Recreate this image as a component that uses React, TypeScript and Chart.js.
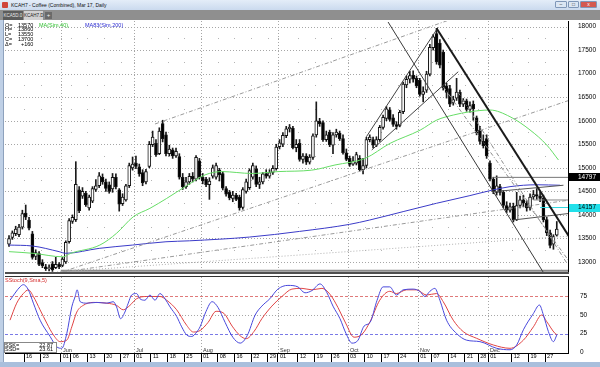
import React, { useEffect, useRef } from 'react';
import { Chart, registerables } from 'chart.js';

Chart.register(...registerables);

const FONT = "'Liberation Sans', Arial, sans-serif";

// ---------- daily OHLC, 9 May – 30 Dec 2016 ----------
const opens = [
  13380,13520,13600,13580,13740,14040,13890,13600,13120,13180,
  12990,12900,12860,12960,12880,12950,12930,13000,13430,13860,
  13900,14530,14400,14460,14150,14290,14540,14620,14800,14700,
  14640,14550,14800,14530,14240,14320,14620,15000,15100,15020,
  14900,14700,15030,15490,15520,15300,15940,15700,15300,15380,
  15250,15240,14800,14600,14700,14820,14760,15150,14800,14760,
  14640,14820,14800,14950,14880,14560,14480,14350,14420,14380,
  14160,14500,14580,14800,14980,14650,14700,14880,14820,14900,
  14980,15450,15500,15680,15830,15840,15430,15520,15180,15250,
  15120,15220,15700,15990,15960,15600,15760,15480,15700,15740,
  15620,15320,15200,15080,15100,15200,14960,15050,15600,15600,
  15480,15600,15860,16050,16230,16060,15920,15900,16190,16760,
  16880,16970,16900,16860,16560,16650,16990,17550,17850,17650,
  17450,16740,16680,16380,16480,16600,16350,16420,16240,16350,
  16060,15800,15560,15620,15100,14760,14480,14600,14480,14200,
  14100,14180,13900,14200,14320,14250,14150,14380,14430,14400,
  14350,13900,13620,13380,13570,
];
const highs = [
  13560,13660,13760,13800,14100,14210,13950,13650,13260,13220,
  13050,12950,12940,13010,13100,12990,13100,13450,13920,14000,
  15130,14600,14580,14500,14420,14600,14750,14900,14870,14760,
  14700,14880,14870,14560,14450,14650,15100,15230,15250,15080,
  14960,14970,15560,15780,15600,15850,16010,15760,15480,15420,
  15420,15300,14880,14800,14880,14900,15260,15200,14880,14800,
  14790,15060,15100,14990,14920,14600,14520,14500,14460,14420,
  14580,14760,14980,15100,15040,14800,14900,14960,14960,15050,
  15500,15600,15750,15880,15920,15880,15600,15600,15300,15300,
  15280,15720,16400,16050,16000,15780,15800,15750,15820,15780,
  15700,15400,15250,15240,15330,15260,15200,15650,15700,15650,
  15660,15900,16120,16300,16280,16130,15980,16220,16820,16950,
  17050,17060,16950,16900,16720,17050,17620,17830,17960,17720,
  17500,16800,16750,16520,16900,16650,16470,16460,16400,16420,
  16100,15880,15700,15700,15150,14800,14830,14650,14520,14280,
  14250,14250,14480,14400,14420,14300,14450,14520,14560,14480,
  14420,13950,13680,13580,13860,
];
const lows = [
  13330,13480,13560,13540,13700,13900,13680,13060,13050,12920,
  12880,12820,12810,12800,12860,12860,12900,12970,13400,13820,
  13860,14050,14350,14180,14100,14260,14500,14580,14650,14500,
  14460,14480,14550,14080,14200,14290,14580,14950,14980,14820,
  14620,14660,15000,15450,15240,15280,15550,15250,15250,15200,
  15220,14760,14540,14560,14650,14700,14720,14760,14660,14600,
  14330,14780,14760,14720,14530,14400,14320,14280,14300,14100,
  14120,14460,14540,14760,14600,14560,14660,14780,14780,14860,
  14950,15400,15450,15640,15760,15400,15340,15140,15100,15070,
  15080,15180,15650,15880,15560,15560,15450,15300,15650,15580,
  15290,15150,15030,15050,15060,14930,14870,15000,15550,15420,
  15450,15560,15820,16000,15990,15880,15820,15870,16150,16700,
  16800,16820,16700,16520,16400,16600,16950,17500,17200,17120,
  16650,16480,16300,16330,16430,16300,16300,16200,16180,16010,
  15700,15500,15420,15200,14720,14450,14420,14420,14150,14050,
  14060,13850,13880,14150,14170,14080,14100,14330,14330,14280,
  13850,13560,13300,13270,13550,
];
const closes = [
  13500,13620,13700,13740,14030,13950,13720,13100,13200,12950,
  12920,12860,12880,12830,12950,12900,13060,13420,13880,13950,
  14650,14090,14500,14220,14380,14560,14620,14830,14700,14560,
  14500,14800,14600,14230,14380,14620,15050,15080,15030,14870,
  14680,14920,15500,15650,15280,15780,15620,15300,15400,15250,
  15350,14800,14600,14700,14820,14760,15220,14800,14720,14640,
  14720,15000,15050,14850,14570,14440,14360,14420,14330,14150,
  14540,14700,14940,15050,14650,14700,14870,14820,14900,14990,
  15440,15530,15690,15830,15860,15430,15500,15180,15250,15120,
  15230,15680,16000,15930,15600,15700,15490,15700,15760,15620,
  15320,15180,15070,15150,15280,14960,15050,15600,15650,15480,
  15600,15860,16070,16250,16030,15920,15880,16180,16780,16880,
  16960,16880,16740,16560,16620,16990,17560,17780,17250,17180,
  16700,16600,16350,16450,16610,16350,16420,16240,16320,16250,
  15740,15560,15470,15250,14760,14500,14620,14480,14200,14100,
  14170,13900,14200,14320,14250,14150,14380,14430,14400,14350,
  13900,13620,13350,13540,13700,
];

// ---------- moving averages ----------
const ma40Idx = [0,7.2,16.2,18.3,27.2,32.2,37.2,42.2,47.2,53.2,58.7,63.7,72.7,80.6,90.6,97.6,106.6,114.1,123.1,128.1,133,138,144,150,156,161,164.5];
const ma40Val = [13220,13185,13110,13180,13360,13610,13960,14140,14350,14620,14850,14920,14880,14920,14950,15060,15200,15520,15800,16015,16120,16190,16227,16085,15803,15484,15166];
const ma200Idx = [0,7,15,17,27,37,47,54,72,87,102,108,118,128,138,144,150,158,165];
const ma200Val = [13360,13340,13220,13185,13290,13360,13430,13450,13530,13650,13800,13892,14070,14247,14410,14515,14600,14640,14630];

// ---------- slow stochastic (9, Sma, 5) ----------
const kIdx = [0.3,3.3,4.3,5.8,7.3,9.3,12.3,14.3,15.8,17.3,18.8,19.8,20.4,21.3,23.3,26.3,29.3,31.2,32.2,33.4,34.7,35.7,36.7,38.2,39.2,40.7,42.2,43.7,45.2,46.7,48.2,50.2,51.7,53.2,54.7,56.2,57.2,59,60.8,62.6,64.7,67,69.2,71.3,73.7,75.7,78.1,80.5,83.5,86.5,88.6,90.7,93.1,95.2,97,99.1,100.9,102.7,104.5,106.3,108.1,110.2,112,114,116,118,121,123,124.5,126,127.5,129,131,134,137,141,146,150,152,154,157,158.8,160,161.5,163,164];
const kVal = [70,88,91,84,66,43,21,7,5,25,61,75,84,68,66,67,66,68,61,45,54,66,77,79,72,70,77,70,79,72,61,48,34,23,21,27,34,55,68,60,40,20,12,22,50,62,72,85,90,88,80,83,92,80,62,45,25,12,16,35,40,70,88,88,77,84,85,82,75,82,86,70,43,25,16,14,5,3,9.5,30,52,63.5,50,27.5,14,22.87];
const dIdx = [0.3,2.3,4.3,5.8,7.3,9.3,11.3,13.3,15.3,17.3,18.8,20.3,22.2,25.2,29.3,32.2,34.2,36.2,38.2,41.2,45.2,47.2,50.2,53.2,55.2,57.2,59.6,62,64.4,66.8,69.2,71,73.4,75.7,78.7,81.7,84.7,87.7,90.7,93.7,96.1,98.5,100.9,103.3,105.7,108.1,111,114,116,119,122,125,128,130,133,136,140,145,150,154,157,159.5,161,163.5,164];
const dVal = [43,66,79,84,75,57,39,23,14,16,34,54,63,67,66,63,57,63,72,75,75,70,57,36,27,29,40,55,52,35,22,18,28,45,62,75,85,86,84,86,78,60,38,20,24,41,70,82,79,84,84,77,79,68,43,27.5,18.5,9.5,5,16,34,50,41,25,23.61];

// ---------- axes / ticks ----------
const priceTicks = [13000,13500,14000,14500,15000,15500,16000,16500,17000,17500,18000];
const priceMinor = [13250,13750,14250,14750,15250,15750,16250,16750,17250,17750];
const stochTicks = [0,25,50,75];
const dayTickIdx = [5,10,16,19,24,29,34,38,43,48,53,58,63,68,73,78,81,87,92,97,102,107,112,117,123,127,132,137,141,144,151,156,161];
const dayTickText = ['16','23','01','06','13','20','27','01','11','18','25','01','08','16','22','29','01','12','19','26','03','10','17','24','01','07','14','21','28','01','12','19','27'];
const monthIdx = [16,38,58,81,102,123,144];
const monthText = ['Jun','Jul','Aug','Sep','Oct','Nov','Dec'];

// ---------- drawn studies: [day index, price] end points ----------
const trendThick = [[128,17962],[168,13504]];
const trendThin = [[113.5,18095],[159.9,12788]];
const channelUpper = [[107,15660],[128.5,17985]];
const channelLower = [[108.6,15378],[134.5,17040]];
const fanA = [[130,16722],[170,12788]];
const fanB = [[134.4,16609],[166.8,13000]];
const riseU = [[43.7,15930],[132.6,18159]];
const riseL1 = [[15.9,12788],[168,16440]];
const riseL2 = [[16.2,12788],[168,14317]];
const riseL3 = [[14.4,12788],[168,13552]];
const supportLow = [[15.5,12815],[168,12815]];
const level14797 = [[145,14797],[168,14797]];
const level14317 = [[157,14317],[168,14317]];
const level14157 = [[159,14157],[168,14157]];
const decUpper = [[145,14493],[166,14630]];
const decLower = [[151,13892],[168,14034]];

const legendLabels = ['O=','H=','L=','C=','\u0394='];
const legendValues = ['13570','13860','13550','13700','+160'];
const axisMarkers = [14797, 14157];
const stochLegend = 'SStoch(9,Sma,5)';
const stochReadout = [['SSK=','22.87'],['SSD=','23.61']];

const X_MIN = -1.2;
const X_MAX = 167.36;
const PRICE_MIN = 12788;
const PRICE_MAX = 18117;
const STOCH_MIN = -1.35;
const STOCH_MAX = 101.35;

const pts = (a: number[][]) => a.map(([x, y]) => ({ x, y }));
const zip = (xs: number[], ys: number[]) => xs.map((x, i) => ({ x, y: ys[i] }));

const lineDs = (data: any[], color: string, width: number, dash: number[] = [], order = 0) => ({
  type: 'line',
  data,
  borderColor: color,
  borderWidth: width,
  borderDash: dash,
  pointRadius: 0,
  fill: false,
  tension: 0,
  order,
});

const pricePlugin = {
  id: 'priceDecor',
  beforeDatasetsDraw(chart: any) {
    const { ctx, chartArea: a, scales } = chart;
    const xs = scales.x, ys = scales.y;
    ctx.save();
    ctx.lineWidth = 1;
    ctx.strokeStyle = '#a6a6a6';
    ctx.setLineDash([1, 2]);
    for (const v of priceTicks) {
      const py = Math.round(ys.getPixelForValue(v)) + 0.5;
      ctx.beginPath(); ctx.moveTo(a.left, py); ctx.lineTo(a.right, py); ctx.stroke();
    }
    for (const i of monthIdx) {
      const px = Math.round(xs.getPixelForValue(i - 0.5)) + 0.5;
      ctx.beginPath(); ctx.moveTo(px, a.top); ctx.lineTo(px, a.bottom); ctx.stroke();
    }
    ctx.setLineDash([]);
    ctx.fillStyle = '#b4b4b4';
    for (const v of priceMinor) {
      const py = Math.round(ys.getPixelForValue(v));
      for (const i of dayTickIdx) {
        ctx.fillRect(Math.round(xs.getPixelForValue(i - 0.5)), py, 1, 1);
      }
    }
    ctx.restore();
  },
  afterDraw(chart: any) {
    const { ctx, chartArea: a, scales } = chart;
    const ys = scales.y;
    ctx.save();
    ctx.fillStyle = '#505050';
    ctx.fillRect(a.left, a.bottom, a.right - a.left + 1, 2);
    ctx.fillStyle = '#000';
    ctx.fillRect(a.right, a.top, 1, a.bottom - a.top);
    ctx.font = `6.5px ${FONT}`;
    ctx.textBaseline = 'middle';
    ctx.textAlign = 'left';
    axisMarkers.forEach((v, k) => {
      const py = ys.getPixelForValue(v);
      ctx.fillStyle = k === 0 ? '#000' : '#22e0ea';
      ctx.fillRect(a.right + 1, Math.round(py) - 4, 31, 8);
      ctx.fillStyle = k === 0 ? '#fff' : '#000';
      ctx.fillText(String(v), a.right + 10, py);
    });
    ctx.font = `5.5px ${FONT}`;
    legendLabels.forEach((lab, k) => {
      const py = a.top + 4 + k * 4.8;
      ctx.fillStyle = '#000';
      ctx.fillText(lab, a.left, py);
      ctx.fillText(legendValues[k], a.left + (k === 4 ? 16 : 13), py);
    });
    ctx.fillStyle = '#2fbf2f';
    ctx.fillText('MA(Sim,40),', a.left + 34, a.top + 4);
    ctx.fillStyle = '#2b2bd0';
    ctx.fillText('MA83(Sim,200)', a.left + 80, a.top + 4);
    ctx.restore();
  },
};

const stochPlugin = {
  id: 'stochDecor',
  beforeDatasetsDraw(chart: any) {
    const { ctx, chartArea: a, scales } = chart;
    const xs = scales.x, ys = scales.y;
    const hline = (v: number) => {
      const py = Math.round(ys.getPixelForValue(v)) + 0.5;
      ctx.beginPath(); ctx.moveTo(a.left, py); ctx.lineTo(a.right, py); ctx.stroke();
    };
    ctx.save();
    ctx.lineWidth = 1;
    ctx.strokeStyle = '#a6a6a6';
    ctx.setLineDash([1, 2]);
    hline(50);
    for (const i of monthIdx) {
      const px = Math.round(xs.getPixelForValue(i - 0.5)) + 0.5;
      ctx.beginPath(); ctx.moveTo(px, a.top); ctx.lineTo(px, a.bottom); ctx.stroke();
    }
    ctx.setLineDash([3, 2]);
    ctx.strokeStyle = '#e07a7a';
    hline(75);
    ctx.strokeStyle = '#7a7ae6';
    hline(25);
    ctx.restore();
  },
  afterDraw(chart: any) {
    const { ctx, chartArea: a, scales } = chart;
    const xs = scales.x;
    ctx.save();
    ctx.fillStyle = '#303030';
    ctx.fillRect(a.left, a.top - 1, a.right - a.left + 1, 1);
    ctx.fillStyle = '#000';
    ctx.fillRect(a.right, a.top, 1, a.bottom - a.top + 1);
    ctx.fillRect(a.left, a.bottom, a.right - a.left + 1, 1);
    ctx.font = `5.5px ${FONT}`;
    ctx.textBaseline = 'middle';
    ctx.textAlign = 'left';
    ctx.fillStyle = '#333';
    monthIdx.forEach((i, k) => {
      ctx.fillText(monthText[k], Math.round(xs.getPixelForValue(i - 0.5)) + 2, a.bottom - 2.5);
    });
    ctx.fillStyle = '#d42a2a';
    ctx.fillText(stochLegend, a.left, a.top + 3.5);
    const bx = a.left - 1, by = a.bottom - 11;
    ctx.fillStyle = '#fff';
    ctx.fillRect(bx, by, 53, 11);
    ctx.strokeStyle = '#888';
    ctx.lineWidth = 1;
    ctx.strokeRect(bx + 0.5, by + 0.5, 52, 10);
    ctx.fillStyle = '#000';
    stochReadout.forEach(([lab, val], k) => {
      const py = by + 3 + k * 4.6;
      ctx.textAlign = 'left';
      ctx.fillText(lab, a.left, py);
      ctx.textAlign = 'right';
      ctx.fillText(val, a.left + 48, py);
    });
    ctx.restore();
  },
};

export default function App() {
  const priceRef = useRef<HTMLCanvasElement>(null);
  const stochRef = useRef<HTMLCanvasElement>(null);

  useEffect(() => {
    document.body.style.margin = '0';
    const bodyColors = opens.map((o, i) => (closes[i] >= o ? '#ffffff' : '#000000'));
    const priceChart = new Chart(priceRef.current as HTMLCanvasElement, {
      type: 'bar',
      data: {
        datasets: [
          lineDs(pts(trendThick), '#1a1a1a', 2),
          lineDs(pts(trendThin), '#3a3a3a', 1),
          lineDs(pts(channelUpper), '#444', 1),
          lineDs(pts(channelLower), '#444', 1),
          lineDs(pts(fanA), '#8c8c8c', 1, [4, 2, 1, 2]),
          lineDs(pts(fanB), '#8c8c8c', 1, [4, 2, 1, 2]),
          lineDs(pts(riseU), '#9a9a9a', 1, [4, 2, 1, 2]),
          lineDs(pts(riseL1), '#9a9a9a', 1, [4, 2, 1, 2]),
          lineDs(pts(riseL2), '#9a9a9a', 1, [4, 2, 1, 2]),
          lineDs(pts(riseL3), '#b0b0b0', 1, [1, 2]),
          lineDs(pts(supportLow), '#8a8a8a', 2),
          lineDs(pts(level14797), '#777', 1),
          lineDs(pts(level14317), '#888', 1),
          lineDs(pts(level14157), '#30d8e0', 1),
          lineDs(pts(decUpper), '#555', 1),
          lineDs(pts(decLower), '#555', 1),
          { ...lineDs(zip(ma40Idx, ma40Val), '#66dd66', 1, [], 1), cubicInterpolationMode: 'monotone' },
          { ...lineDs(zip(ma200Idx, ma200Val), '#3b3bc8', 1, [], 1), cubicInterpolationMode: 'monotone' },
          {
            type: 'bar',
            data: opens.map((o, i) => ({ x: i, y: [o, closes[i]] })),
            backgroundColor: bodyColors,
            borderColor: '#151515',
            borderWidth: 1,
            borderSkipped: false,
            barThickness: 3,
            minBarLength: 1,
            grouped: false,
            order: 4,
          },
          {
            type: 'bar',
            data: highs.map((h, i) => ({ x: i, y: [lows[i], h] })),
            backgroundColor: '#1a1a1a',
            borderWidth: 0,
            barThickness: 1,
            grouped: false,
            order: 5,
          },
        ] as any,
      },
      options: {
        responsive: false,
        maintainAspectRatio: false,
        animation: false,
        events: [],
        layout: { padding: { left: 5, top: 1, right: 0, bottom: 3 } },
        plugins: { legend: { display: false }, tooltip: { enabled: false } },
        scales: {
          x: { type: 'linear', min: X_MIN, max: X_MAX, display: false, offset: false },
          y: {
            type: 'linear',
            position: 'right',
            min: PRICE_MIN,
            max: PRICE_MAX,
            afterBuildTicks: (s: any) => { s.ticks = priceTicks.map((v) => ({ value: v })); },
            afterFit: (s: any) => { s.width = 32; s.paddingTop = 0; s.paddingBottom = 0; },
            grid: { display: false, drawTicks: false },
            border: { display: false },
            ticks: {
              autoSkip: false,
              padding: 10,
              color: '#000',
              font: { family: FONT, size: 6.5 },
              callback: (v: any) => String(v),
            },
          },
        },
      } as any,
      plugins: [pricePlugin],
    });

    const stochChart = new Chart(stochRef.current as HTMLCanvasElement, {
      type: 'line',
      data: {
        datasets: [
          {
            data: zip(kIdx, kVal),
            borderColor: '#4848dc',
            borderWidth: 1,
            pointRadius: 0,
            cubicInterpolationMode: 'monotone',
            order: 0,
          },
          {
            data: zip(dIdx, dVal),
            borderColor: '#e04444',
            borderWidth: 1,
            pointRadius: 0,
            cubicInterpolationMode: 'monotone',
            order: 1,
          },
        ] as any,
      },
      options: {
        responsive: false,
        maintainAspectRatio: false,
        animation: false,
        events: [],
        layout: { padding: { left: 5, top: 2, right: 0, bottom: 0 } },
        plugins: { legend: { display: false }, tooltip: { enabled: false } },
        scales: {
          x: {
            type: 'linear',
            position: 'bottom',
            min: X_MIN,
            max: X_MAX,
            offset: false,
            afterBuildTicks: (s: any) => { s.ticks = dayTickIdx.map((i) => ({ value: i - 0.5 })); },
            afterFit: (s: any) => { s.height = 10; s.paddingLeft = 0; s.paddingRight = 0; },
            grid: { display: true, drawOnChartArea: false, drawTicks: true, tickLength: 9, tickColor: '#000', tickWidth: 1 },
            border: { display: false },
            ticks: {
              autoSkip: false,
              maxRotation: 0,
              minRotation: 0,
              align: 'start',
              padding: -9,
              labelOffset: 2,
              color: '#000',
              font: { family: FONT, size: 5.5 },
              callback: (_v: any, i: number) => dayTickText[i],
            },
          },
          y: {
            type: 'linear',
            position: 'right',
            min: STOCH_MIN,
            max: STOCH_MAX,
            afterBuildTicks: (s: any) => { s.ticks = stochTicks.map((v) => ({ value: v })); },
            afterFit: (s: any) => { s.width = 32; s.paddingTop = 0; s.paddingBottom = 0; },
            grid: { display: false, drawTicks: false },
            border: { display: false },
            ticks: {
              autoSkip: false,
              padding: 12,
              crossAlign: 'near',
              color: '#000',
              font: { family: FONT, size: 6.5 },
              callback: (v: any) => String(v),
            },
          },
        },
      } as any,
      plugins: [stochPlugin],
    });

    return () => {
      priceChart.destroy();
      stochChart.destroy();
    };
  }, []);

  const btn = (left: number, width: number, bg: string, label: string, color: string) => (
    <div
      style={{
        position: 'absolute', left, top: 1, width, height: 7, background: bg,
        border: '1px solid #7f97b8', borderRadius: 1, boxSizing: 'border-box',
        fontSize: 5, lineHeight: '5px', color, textAlign: 'center',
      }}
    >
      {label}
    </div>
  );

  return (
    <div
      style={{
        position: 'fixed', left: 0, top: 0, width: 600, height: 367, overflow: 'hidden',
        background: '#bfd0e6', fontFamily: FONT,
      }}
    >
      <div style={{ position: 'absolute', left: 0, top: 0, width: 600, height: 10, background: 'linear-gradient(#e4edf8,#cbdaee)' }}>
        <div style={{ position: 'absolute', left: 2, top: 2, width: 6, height: 6, background: '#d0453a', borderRadius: 1 }} />
        <div style={{ position: 'absolute', left: 11, top: 1, fontSize: 5, lineHeight: '8px', color: '#111', whiteSpace: 'nowrap' }}>
          KCAH7 - Coffee (Combined), Mar 17, Daily
        </div>
        {btn(555, 12, '#dbe6f3', '\u2013', '#333')}
        {btn(568, 11, '#dbe6f3', '\u25a1', '#333')}
        {btn(580, 17, '#d35a50', 'x', '#fff')}
      </div>
      <div style={{ position: 'absolute', left: 0, top: 10, width: 600, height: 10, background: '#8f8f8f' }}>
        <div style={{ position: 'absolute', left: 3, top: 1, width: 20, height: 9, background: '#5c5c5c', color: '#e8e8e8', fontSize: 4.5, lineHeight: '9px', textAlign: 'center', whiteSpace: 'nowrap' }}>
          KCA5D.0
        </div>
        <div style={{ position: 'absolute', left: 24, top: 1, width: 19, height: 9, background: '#d2d2d2', color: '#222', fontSize: 4.5, lineHeight: '9px', textAlign: 'center', whiteSpace: 'nowrap' }}>
          KCAH7.D
        </div>
        <div style={{ position: 'absolute', left: 45, top: 2, width: 7, height: 7, background: '#6a6a6a', color: '#eee', fontSize: 6, lineHeight: '7px', textAlign: 'center' }}>
          +
        </div>
      </div>
      <div style={{ position: 'absolute', left: 4, top: 20, width: 596, height: 342, background: '#ffffff' }} />
      <div style={{ position: 'absolute', left: 3, top: 20, width: 1, height: 342, background: '#8ea2bd' }} />
      <div style={{ position: 'absolute', left: 0, top: 362, width: 600, height: 5, background: '#a9bfdc' }} />
      <canvas ref={priceRef} width={600} height={255} style={{ position: 'absolute', left: 0, top: 20 }} />
      <canvas ref={stochRef} width={600} height={88} style={{ position: 'absolute', left: 0, top: 275 }} />
    </div>
  );
}
